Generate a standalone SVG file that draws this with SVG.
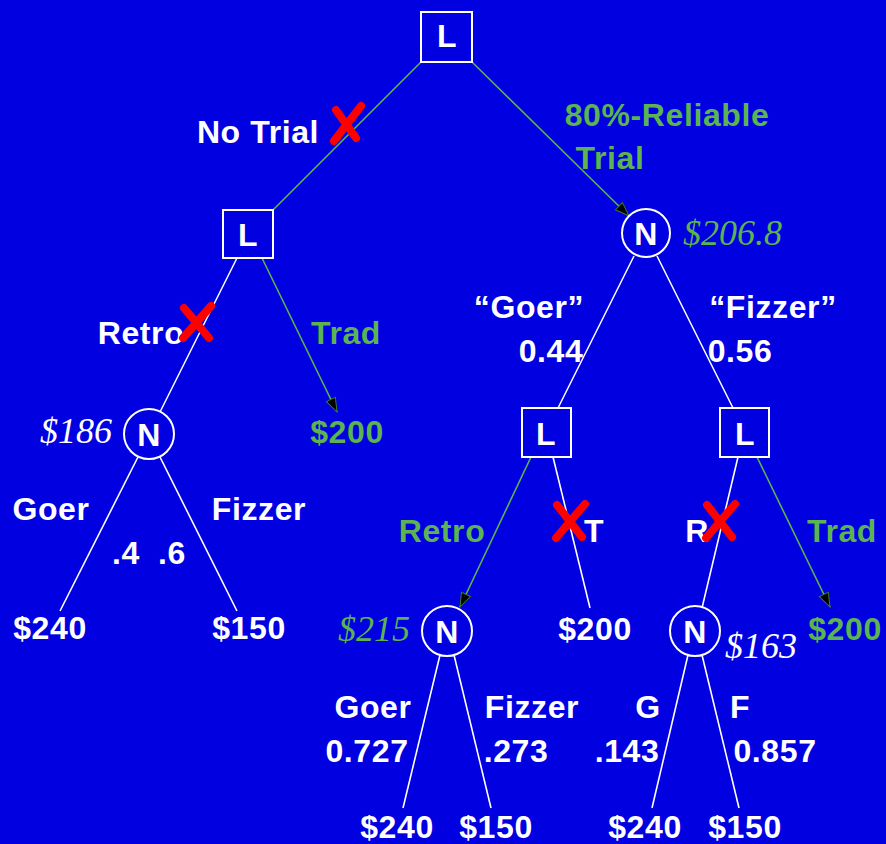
<svg xmlns="http://www.w3.org/2000/svg" width="886" height="844" viewBox="0 0 886 844">
<defs>
<style>
.t{font-family:"Liberation Sans",Arial,sans-serif;font-weight:bold;font-size:32px;letter-spacing:0.6px;fill:#fff;text-anchor:middle}
.g{fill:#5BB451}
.v{font-family:"Liberation Serif","Times New Roman",serif;font-style:italic;font-size:36px}
.box{fill:none;stroke:#fff;stroke-width:2}
.wl{stroke:#fff;stroke-width:1.6;fill:none}
.gl{stroke:#5BB451;stroke-width:1.6;fill:none}
.x{stroke:#f00;stroke-width:8;stroke-linecap:round;fill:none}
</style>
<marker id="arr" markerUnits="userSpaceOnUse" markerWidth="18" markerHeight="14" refX="15" refY="6" orient="auto" viewBox="0 0 18 14">
<path d="M1,1 L15,6 L1,11 z" fill="#000" stroke="#3a7a30" stroke-width="1"/>
</marker>
</defs>
<rect width="886" height="844" fill="#0000E0"/>
<g id="connectors">
<line class="gl" x1="421" y1="62" x2="273" y2="210"/>
<line class="gl" x1="472" y1="62" x2="629" y2="216" marker-end="url(#arr)"/>
<line class="wl" x1="237" y1="258" x2="160" y2="412"/>
<line class="gl" x1="262" y1="258" x2="337" y2="412" marker-end="url(#arr)"/>
<line class="wl" x1="138" y1="457" x2="60" y2="611"/>
<line class="wl" x1="160" y1="457" x2="237" y2="611"/>
<line class="wl" x1="634" y1="256" x2="558" y2="408"/>
<line class="wl" x1="657" y1="256" x2="733" y2="408"/>
<line class="gl" x1="531" y1="457" x2="460" y2="607" marker-end="url(#arr)"/>
<line class="wl" x1="553" y1="457" x2="590" y2="608"/>
<line class="wl" x1="738" y1="457" x2="702" y2="608"/>
<line class="gl" x1="757" y1="457" x2="830" y2="607" marker-end="url(#arr)"/>
<line class="wl" x1="440" y1="655" x2="403" y2="808"/>
<line class="wl" x1="454" y1="655" x2="491" y2="808"/>
<line class="wl" x1="688" y1="655" x2="652" y2="808"/>
<line class="wl" x1="702" y1="655" x2="739" y2="808"/>
</g>
<g id="n_root"><rect class="box" x="421" y="12" width="51" height="50"/><text class="t" x="447" y="47">L</text></g>
<g id="n_L1"><rect class="box" x="223" y="210" width="50" height="48"/><text class="t" x="248" y="246">L</text></g>
<g id="n_N1"><circle class="box" cx="149" cy="434" r="25"/><text class="t" x="149" y="446">N</text></g>
<g id="n_N2"><circle class="box" cx="646" cy="233" r="24"/><text class="t" x="646" y="245">N</text></g>
<g id="n_L2"><rect class="box" x="522" y="408" width="49" height="49"/><text class="t" x="546" y="445">L</text></g>
<g id="n_L3"><rect class="box" x="720" y="408" width="49" height="49"/><text class="t" x="745" y="445">L</text></g>
<g id="n_N3"><circle class="box" cx="447" cy="631" r="25"/><text class="t" x="447" y="643">N</text></g>
<g id="n_N4"><circle class="box" cx="695" cy="631" r="25"/><text class="t" x="695" y="643">N</text></g>
<g id="labels">
<text class="t" x="258" y="143">No Trial</text>
<text class="t g" x="667" y="126">80%-Reliable</text>
<text class="t g" x="610" y="169">Trial</text>
<text class="t" x="141" y="344">Retro</text>
<text class="t g" x="346" y="344">Trad</text>
<text class="v" x="112" y="443" fill="#fff" text-anchor="end">$186</text>
<text class="t g" x="347" y="443">$200</text>
<text class="v" x="683" y="245" fill="#5BB451">$206.8</text>
<text class="t" x="529" y="318">“Goer”</text>
<text class="t" x="551" y="362">0.44</text>
<text class="t" x="773" y="318">“Fizzer”</text>
<text class="t" x="740" y="362">0.56</text>
<text class="t" x="51" y="520">Goer</text>
<text class="t" x="259" y="520">Fizzer</text>
<text class="t" x="126" y="564">.4</text>
<text class="t" x="172" y="564">.6</text>
<text class="t" x="50" y="639">$240</text>
<text class="t" x="249" y="639">$150</text>
<text class="t g" x="442" y="542">Retro</text>
<text class="t" x="594" y="542">T</text>
<text class="t" x="697" y="542">R</text>
<text class="t g" x="842" y="542">Trad</text>
<text class="v" x="410" y="641" fill="#5BB451" text-anchor="end">$215</text>
<text class="t" x="595" y="640">$200</text>
<text class="v" x="725" y="658" fill="#fff">$163</text>
<text class="t g" x="845" y="640">$200</text>
<text class="t" x="373" y="718">Goer</text>
<text class="t" x="532" y="718">Fizzer</text>
<text class="t" x="648" y="718">G</text>
<text class="t" x="740" y="718">F</text>
<text class="t" x="367" y="762">0.727</text>
<text class="t" x="516" y="762">.273</text>
<text class="t" x="627" y="762">.143</text>
<text class="t" x="775" y="762">0.857</text>
<text class="t" x="397" y="838">$240</text>
<text class="t" x="496" y="838">$150</text>
<text class="t" x="645" y="838">$240</text>
<text class="t" x="745" y="838">$150</text>
</g>
<g id="crosses">
<path class="x" d="M336,110 L356,138 M361,106 L334,141"/>
<path class="x" d="M184,308 L209,338 M211,306 L183,338"/>
<path class="x" d="M557,505 L582,537 M585,504 L556,538"/>
<path class="x" d="M707,505 L732,537 M735,504 L706,538"/>
</g>
</svg>
